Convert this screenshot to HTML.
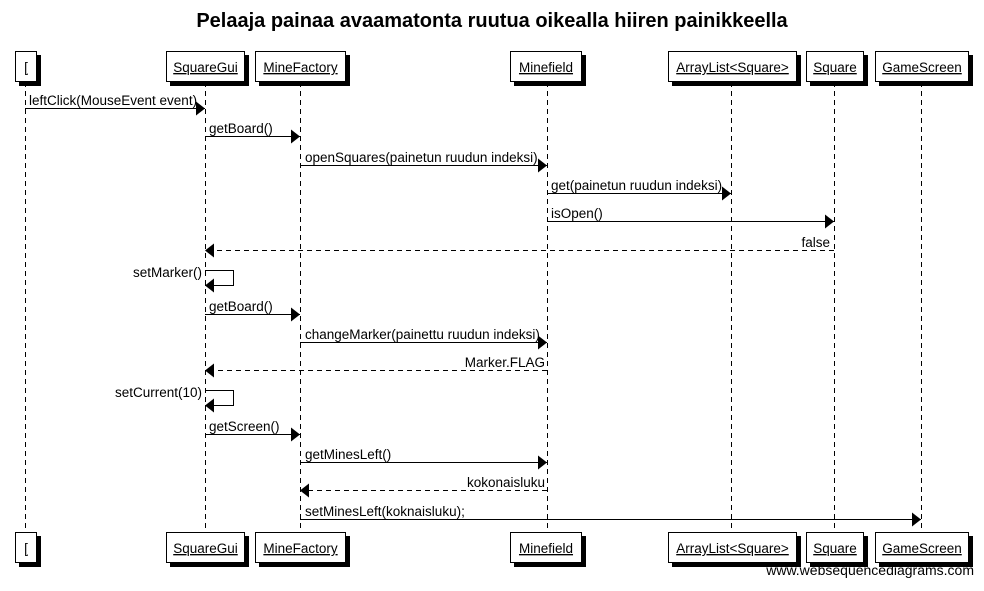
<!DOCTYPE html>
<html><head><meta charset="utf-8"><style>
html,body{margin:0;padding:0;background:#fff;}
svg text{font-family:"Liberation Sans",Arial,sans-serif;font-size:13.5px;fill:#000;}
</style></head><body>
<svg width="984" height="586" viewBox="0 0 984 586" xmlns="http://www.w3.org/2000/svg">
<defs>
<marker id="a" markerWidth="10" markerHeight="14" refX="9" refY="7" orient="auto" markerUnits="userSpaceOnUse"><path d="M0,0 L9,7 L0,14 Z" fill="#000"/></marker>
</defs>
<text x="492" y="27" text-anchor="middle" style="font-size:20px;font-weight:bold">Pelaaja painaa avaamatonta ruutua oikealla hiiren painikkeella</text>
<g stroke="#000" stroke-dasharray="5,4" stroke-width="1">
<line x1="25.5" y1="82" x2="25.5" y2="532"/>
<line x1="205.5" y1="82" x2="205.5" y2="532"/>
<line x1="300.5" y1="82" x2="300.5" y2="532"/>
<line x1="547.5" y1="82" x2="547.5" y2="532"/>
<line x1="731.5" y1="82" x2="731.5" y2="532"/>
<line x1="834.5" y1="82" x2="834.5" y2="532"/>
<line x1="921.5" y1="82" x2="921.5" y2="532"/>
</g>
<g id="boxes">
<g fill="#000"><rect x="19" y="55" width="22" height="31"/><rect x="170" y="55" width="79" height="31"/><rect x="259" y="55" width="91" height="31"/><rect x="514" y="55" width="72" height="31"/><rect x="672" y="55" width="129" height="31"/><rect x="810" y="55" width="58" height="31"/><rect x="879" y="55" width="94" height="31"/></g>
<g fill="#fff" stroke="#000"><rect x="15.5" y="51.5" width="21" height="30"/><rect x="166.5" y="51.5" width="78" height="30"/><rect x="255.5" y="51.5" width="90" height="30"/><rect x="510.5" y="51.5" width="71" height="30"/><rect x="668.5" y="51.5" width="128" height="30"/><rect x="806.5" y="51.5" width="57" height="30"/><rect x="875.5" y="51.5" width="93" height="30"/></g>
<g text-decoration="underline" text-anchor="middle" style="font-size:12.8px"><text x="26" y="72">[</text><text x="205.5" y="72">SquareGui</text><text x="300.5" y="72">MineFactory</text><text x="546" y="72">Minefield</text><text x="732.5" y="72">ArrayList&lt;Square&gt;</text><text x="835" y="72">Square</text><text x="922" y="72">GameScreen</text></g>
</g>
<use href="#boxes" y="481"/>
<g stroke="#000" fill="none">
<line x1="25" y1="108.5" x2="205" y2="108.5" marker-end="url(#a)"/>
<line x1="205" y1="136.5" x2="300" y2="136.5" marker-end="url(#a)"/>
<line x1="300" y1="165.5" x2="547" y2="165.5" marker-end="url(#a)"/>
<line x1="547" y1="193.5" x2="731" y2="193.5" marker-end="url(#a)"/>
<line x1="547" y1="221.5" x2="834" y2="221.5" marker-end="url(#a)"/>
<line x1="834" y1="250.5" x2="205" y2="250.5" stroke-dasharray="5,4" marker-end="url(#a)"/>
<polyline points="205,270.5 233.5,270.5 233.5,285.5 205,285.5" marker-end="url(#a)"/>
<line x1="205" y1="314.5" x2="300" y2="314.5" marker-end="url(#a)"/>
<line x1="300" y1="342.5" x2="547" y2="342.5" marker-end="url(#a)"/>
<line x1="547" y1="370.5" x2="205" y2="370.5" stroke-dasharray="5,4" marker-end="url(#a)"/>
<polyline points="205,390.5 233.5,390.5 233.5,405.5 205,405.5" marker-end="url(#a)"/>
<line x1="205" y1="434.5" x2="300" y2="434.5" marker-end="url(#a)"/>
<line x1="300" y1="462.5" x2="547" y2="462.5" marker-end="url(#a)"/>
<line x1="547" y1="490.5" x2="300" y2="490.5" stroke-dasharray="5,4" marker-end="url(#a)"/>
<line x1="300" y1="519.5" x2="921" y2="519.5" marker-end="url(#a)"/>
</g>
<text x="29" y="105">leftClick(MouseEvent event)</text>
<text x="209" y="133">getBoard()</text>
<text x="305" y="162">openSquares(painetun ruudun indeksi)</text>
<text x="551" y="190">get(painetun ruudun indeksi)</text>
<text x="551" y="218">isOpen()</text>
<text x="830" y="247" text-anchor="end">false</text>
<text x="202" y="277" text-anchor="end">setMarker()</text>
<text x="209" y="311">getBoard()</text>
<text x="305" y="339">changeMarker(painettu ruudun indeksi)</text>
<text x="545" y="367" text-anchor="end">Marker.FLAG</text>
<text x="202" y="397" text-anchor="end">setCurrent(10)</text>
<text x="209" y="431">getScreen()</text>
<text x="305" y="459">getMinesLeft()</text>
<text x="545" y="487" text-anchor="end">kokonaisluku</text>
<text x="305" y="516">setMinesLeft(koknaisluku);</text>
<text x="974" y="575" text-anchor="end" style="font-size:14px">www.websequencediagrams.com</text>
</svg>
</body></html>
